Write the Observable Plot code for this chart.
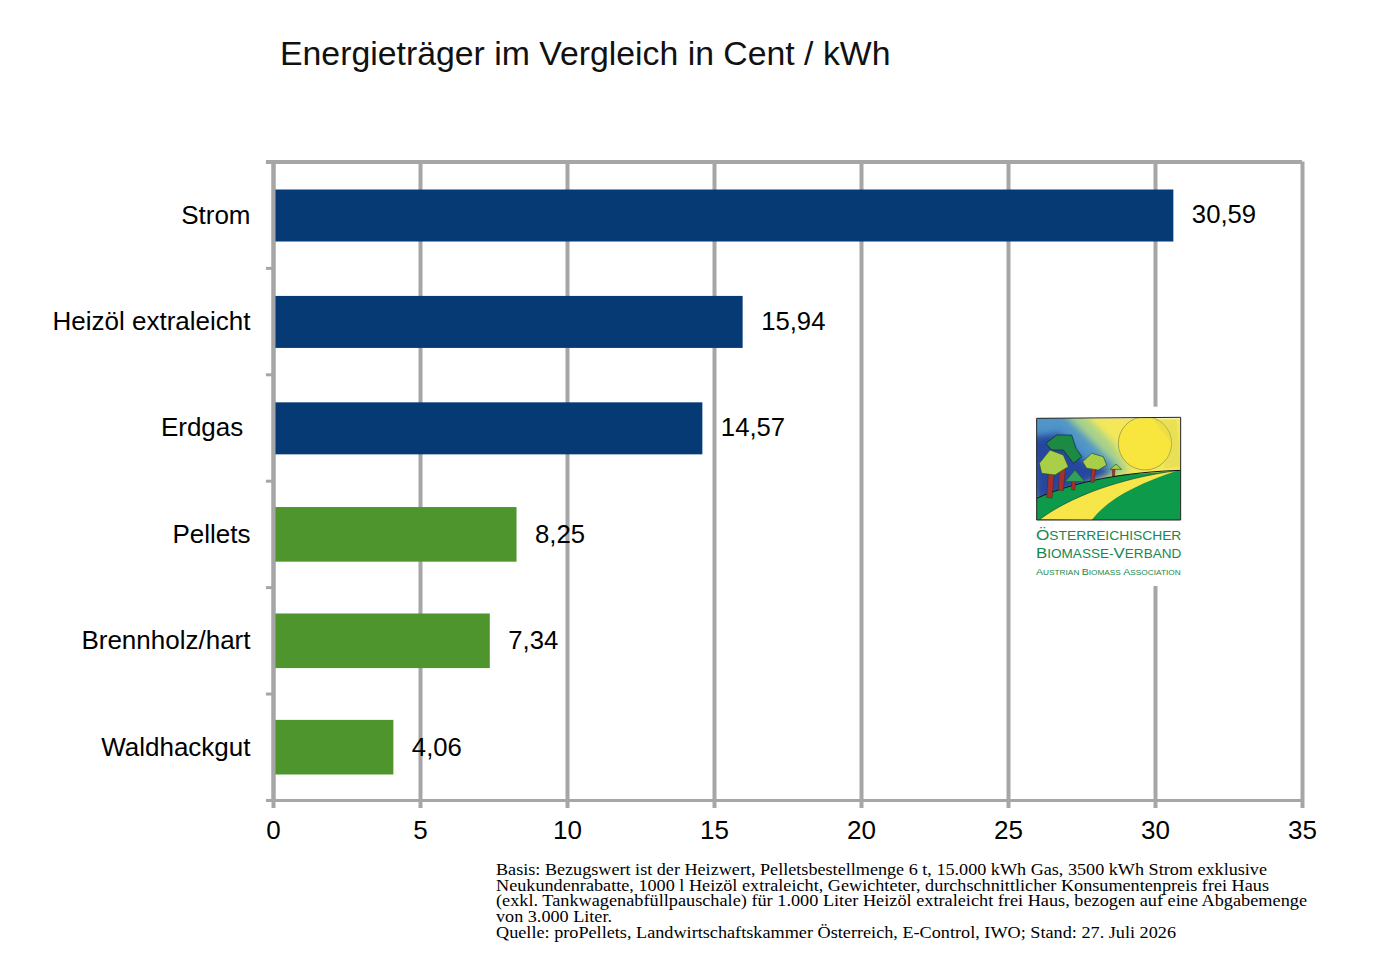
<!DOCTYPE html>
<html lang="de">
<head>
<meta charset="utf-8">
<script src="https://cdn.jsdelivr.net/npm/d3@7"></script>
<script src="https://cdn.jsdelivr.net/npm/@observablehq/plot@0.6"></script>
<style>
html,body{margin:0;padding:0;background:#fff;width:1391px;height:976px;overflow:hidden}
#wrap{position:relative;width:1391px;height:976px;font-family:"Liberation Sans",Arial,sans-serif}
#title{position:absolute;left:280px;top:33px;font-size:33.8px;line-height:40px;color:#111;white-space:nowrap;font-weight:400;margin:0}
#logo,#note{position:absolute}
#logo{left:1020px;top:400px}
#note{left:0;top:850px}
#chart{position:absolute;left:0;top:0}
</style>
</head>
<body>
<div id="wrap">
<div id="chart"></div>
<h1 id="title">Energieträger im Vergleich in Cent / kWh</h1>
<svg id="logo" width="180" height="200" viewBox="0 0 540 600">
  <defs>
    <filter id="soft" x="-20%" y="-20%" width="140%" height="140%"><feGaussianBlur stdDeviation="11"/></filter>
    <clipPath id="pic"><rect x="50" y="55" width="432" height="305"/></clipPath>
  </defs>
  <rect x="20" y="20" width="500" height="538" fill="#fff"/>
  <g clip-path="url(#pic)">
    <rect x="50" y="55" width="432" height="305" fill="#f4e85a"/>
    <path d="M50 40 L190 40 L280 130 L330 215 L50 300Z" fill="#a9d28a" filter="url(#soft)"/>
    <path d="M30 40 L130 40 L210 120 L290 200 L50 300Z" fill="#4f95c8" filter="url(#soft)"/>
    <path d="M30 110 L120 100 L190 180 L280 215 L50 310Z" fill="#27479f" filter="url(#soft)"/>
    <circle cx="375" cy="130" r="80" fill="#f8e63f" stroke="#7a8a3a" stroke-width="2"/>
    <path d="M300 60 L470 60 L482 200 L430 205 L455 130 L400 60Z" fill="#d8d050" opacity="0.35"/>
    <path d="M50 295 L130 262 L300 225 L484 212 L482 360 L50 360Z" fill="#0d9b4b"/>
    <path d="M60 358 C150 290 300 235 470 212 C360 250 270 290 215 360Z" fill="#f6e64a"/>
    <path d="M50 295 C160 245 320 215 486 211" fill="none" stroke="#111" stroke-width="3"/>
    <path d="M60 358 C150 290 300 235 470 212" fill="none" stroke="#123" stroke-width="1.5"/>
    <path d="M85 220 L103 220 L96 295 L80 292Z M118 205 L136 205 L130 272 L115 270Z M155 240 L166 240 L165 270 L155 270Z M215 200 L228 200 L222 247 L212 247Z M277 205 L285 205 L284 228 L277 228Z" fill="#a6312c" stroke="#311" stroke-width="1"/>
    <path d="M78 130 L110 105 L155 105 L168 145 L185 170 L160 190 L130 150 L95 150Z" fill="#1d8a44" stroke="#123" stroke-width="2"/>
    <path d="M58 190 L90 150 L130 165 L145 200 L105 225 L65 220Z" fill="#a9cf48" stroke="#1f4d2a" stroke-width="2"/>
    <path d="M135 245 L165 210 L195 245Z" fill="#2fa15a" stroke="#1f4d2a" stroke-width="2"/>
    <path d="M188 185 L215 160 L250 170 L260 195 L235 210 L200 205Z" fill="#a9cf48" stroke="#1f4d2a" stroke-width="2"/>
    <path d="M270 208 L288 192 L305 208Z" fill="#a9cf48" stroke="#1f4d2a" stroke-width="2"/>
  </g>
  <path d="M50 55 L482 52 L482 360 L50 360Z" fill="none" stroke="#222" stroke-width="3"/>
  <g fill="#17884e" font-family="Liberation Sans,Arial,sans-serif" text-anchor="start">
    <text x="48" y="420" font-size="37" textLength="436" lengthAdjust="spacingAndGlyphs"><tspan font-size="46">Ö</tspan>STERREICHISCHER</text>
    <text x="48" y="474" font-size="37" textLength="436" lengthAdjust="spacingAndGlyphs"><tspan font-size="46">B</tspan>IOMASSE-<tspan font-size="46">V</tspan>ERBAND</text>
    <text x="48" y="526" font-size="22" textLength="434" lengthAdjust="spacingAndGlyphs"><tspan font-size="28">A</tspan>USTRIAN <tspan font-size="28">B</tspan>IOMASS <tspan font-size="28">A</tspan>SSOCIATION</text>
  </g>
</svg>
<svg id="note" width="1391" height="100" font-family="Liberation Serif,Times New Roman,serif" font-size="17.5" fill="#000"></svg>
</div>
<script>
const categories = ["Strom", "Heizöl extraleicht", "Erdgas ", "Pellets", "Brennholz/hart", "Waldhackgut"];
const values = [30.59, 15.94, 14.57, 8.25, 7.34, 4.06];
const barColors = ["#063a75", "#063a75", "#063a75", "#4f952e", "#4f952e", "#4f952e"];
const xTickValues = [0, 5, 10, 15, 20, 25, 30, 35];
const noteLines = [
  "Basis: Bezugswert ist der Heizwert, Pelletsbestellmenge 6 t, 15.000 kWh Gas, 3500 kWh Strom exklusive",
  "Neukundenrabatte, 1000 l Heizöl extraleicht, Gewichteter, durchschnittlicher Konsumentenpreis frei Haus",
  "(exkl. Tankwagenabfüllpauschale) für 1.000 Liter Heizöl extraleicht frei Haus, bezogen auf eine Abgabemenge",
  "von 3.000 Liter.",
  "Quelle: proPellets, Landwirtschaftskammer Österreich, E-Control, IWO; Stand: 27. Juli 2026"
];
const noteWidths = [771, 773, 811, 116, 680];

const rows = categories.map((name, i) => ({name, value: values[i], color: barColors[i]}));
const blueRows = rows.slice(0, 3);
const greenRows = rows.slice(3);
const gridColor = "#a6a6a6";
const bandHalf = 53.25;
const axisOverhang = -0.24;

const chart = Plot.plot({
  width: 1391,
  height: 976,
  marginLeft: 273,
  marginRight: 89,
  marginTop: 161.5,
  marginBottom: 176,
  style: {fontFamily: "Liberation Sans, Arial, sans-serif", background: "transparent"},
  x: {domain: [0, 35], axis: null},
  y: {domain: categories, paddingInner: 0.5, paddingOuter: 0.25, round: false, axis: null},
  color: {type: "identity"},
  marks: [
    Plot.ruleX(xTickValues, {x: d => d, stroke: gridColor, strokeWidth: 4}),
    Plot.barX(blueRows, {x: "value", y: "name", fill: "color", insetTop: 0.6, insetBottom: 0.6, dx: 1, dy: 0.8}),
    Plot.barX(greenRows, {x: "value", y: "name", fill: "color", insetTop: -0.7, insetBottom: -0.7, dx: 1, dy: 0.4}),
    Plot.ruleX([0], {x: d => d, stroke: gridColor, strokeWidth: 4}),
    Plot.ruleY(categories, {y: d => d, x1: axisOverhang, x2: 0, dy: -bandHalf, stroke: gridColor, strokeWidth: 3}),
    Plot.ruleY(categories.slice(0, 1), {y: d => d, x1: axisOverhang, x2: 35, dy: -bandHalf, stroke: gridColor, strokeWidth: 4}),
    Plot.ruleY(categories.slice(-1), {y: d => d, x1: axisOverhang, x2: 35, dy: bandHalf, stroke: gridColor, strokeWidth: 3}),
    Plot.axisX(xTickValues, {anchor: "bottom", tickSize: 8, tickPadding: 12, stroke: gridColor, strokeWidth: 4, fill: "#000", fontSize: 26, label: null, textStroke: "none", tickFormat: d => String(d)}),
    Plot.axisY(categories, {anchor: "left", tickSize: 0, tickPadding: 23, fontSize: 26, fill: "#000", label: null}),
    Plot.text(rows, {x: "value", y: "name", text: d => d.value.toFixed(2).replace(".", ","), dx: 19, textAnchor: "start", fontSize: 25.7, fill: "#000"})
  ]
});
document.getElementById("chart").appendChild(chart);

const note = d3.select("#note");
noteLines.forEach((line, i) => {
  note.append("text")
    .attr("x", 496)
    .attr("y", 25 + i * 15.7)
    .attr("textLength", noteWidths[i])
    .attr("lengthAdjust", "spacingAndGlyphs")
    .text(line);
});
</script>
</body>
</html>
